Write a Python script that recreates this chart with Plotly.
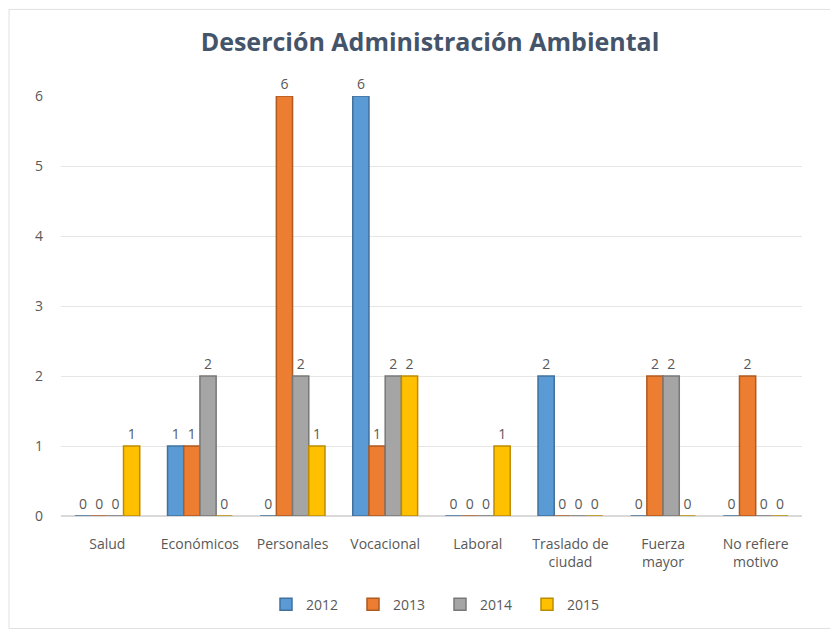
import plotly.graph_objects as go

categories = ["Salud", "Económicos", "Personales", "Vocacional", "Laboral",
              "Traslado de<br>ciudad", "Fuerza<br>mayor", "No refiere<br>motivo"]
years = ["2012", "2013", "2014", "2015"]
v2012 = [0, 1, 0, 6, 0, 2, 0, 0]
v2013 = [0, 1, 6, 1, 0, 0, 2, 2]
v2014 = [0, 2, 2, 2, 0, 0, 2, 0]
v2015 = [1, 0, 1, 2, 1, 0, 0, 0]
series = [v2012, v2013, v2014, v2015]
colors = ["#5B9BD5", "#ED7D31", "#A5A5A5", "#FFC000"]
edge = ["#41719C", "#AE5A21", "#787878", "#BC8C00"]

font_family = "Open Sans, Noto Sans, sans-serif"
fig = go.Figure()
for name, vals, c, e in zip(years, series, colors, edge):
    fig.add_trace(go.Bar(
        x=categories, y=vals, name=name,
        marker=dict(color=c, line=dict(color=e, width=1.5)),
        text=[str(v) for v in vals], textposition="outside",
        textfont=dict(size=14, color="#595959", family=font_family),
        cliponaxis=False,
    ))

W, H = 830, 624
L, R, T, B = 53, 36, 88, 114
pw, ph = W - L - R, H - T - B

fig.update_layout(
    width=W, height=H,
    paper_bgcolor="white", plot_bgcolor="white",
    margin=dict(l=L, r=R, t=T, b=B),
    barmode="group", bargap=0.3, bargroupgap=0.0,
    title=dict(text="<b>Deserción Administración Ambiental</b>", x=(430 - 8 - L) / pw * 1.0,
               xref="paper", xanchor="center",
               y=1 - (42 - 8) / H, yanchor="middle",
               font=dict(size=25, color="#44546A", family=font_family)),
    font=dict(family=font_family, color="#595959", size=14),
    legend=dict(orientation="h", x=(440 - 8 - L) / pw, xanchor="center", y=-(607 - 518) / ph,
                yanchor="middle", font=dict(size=14, color="#595959"), itemwidth=30,
                entrywidth=42, entrywidthmode="pixels", traceorder="normal"),
)
fig.update_yaxes(range=[0, 6], dtick=1, showgrid=True, gridcolor="#E6E6E6", gridwidth=1,
                 zeroline=True, zerolinecolor="#D9D9D9", tickfont=dict(size=14, color="#595959"),
                 ticklabelstandoff=17, showline=False)
fig.update_xaxes(showgrid=False, showline=False, tickfont=dict(size=14, color="#595959"),
                 ticklabelstandoff=18)
fig.add_shape(type="rect", xref="paper", yref="paper",
              x0=(1 - L) / pw, x1=(W - 2 - L) / pw, y0=-(B - 1) / ph, y1=(ph + T - 1) / ph,
              line=dict(color="#E0E0E0", width=1), fillcolor="rgba(0,0,0,0)", layer="below")

fig.write_html("out.html")
